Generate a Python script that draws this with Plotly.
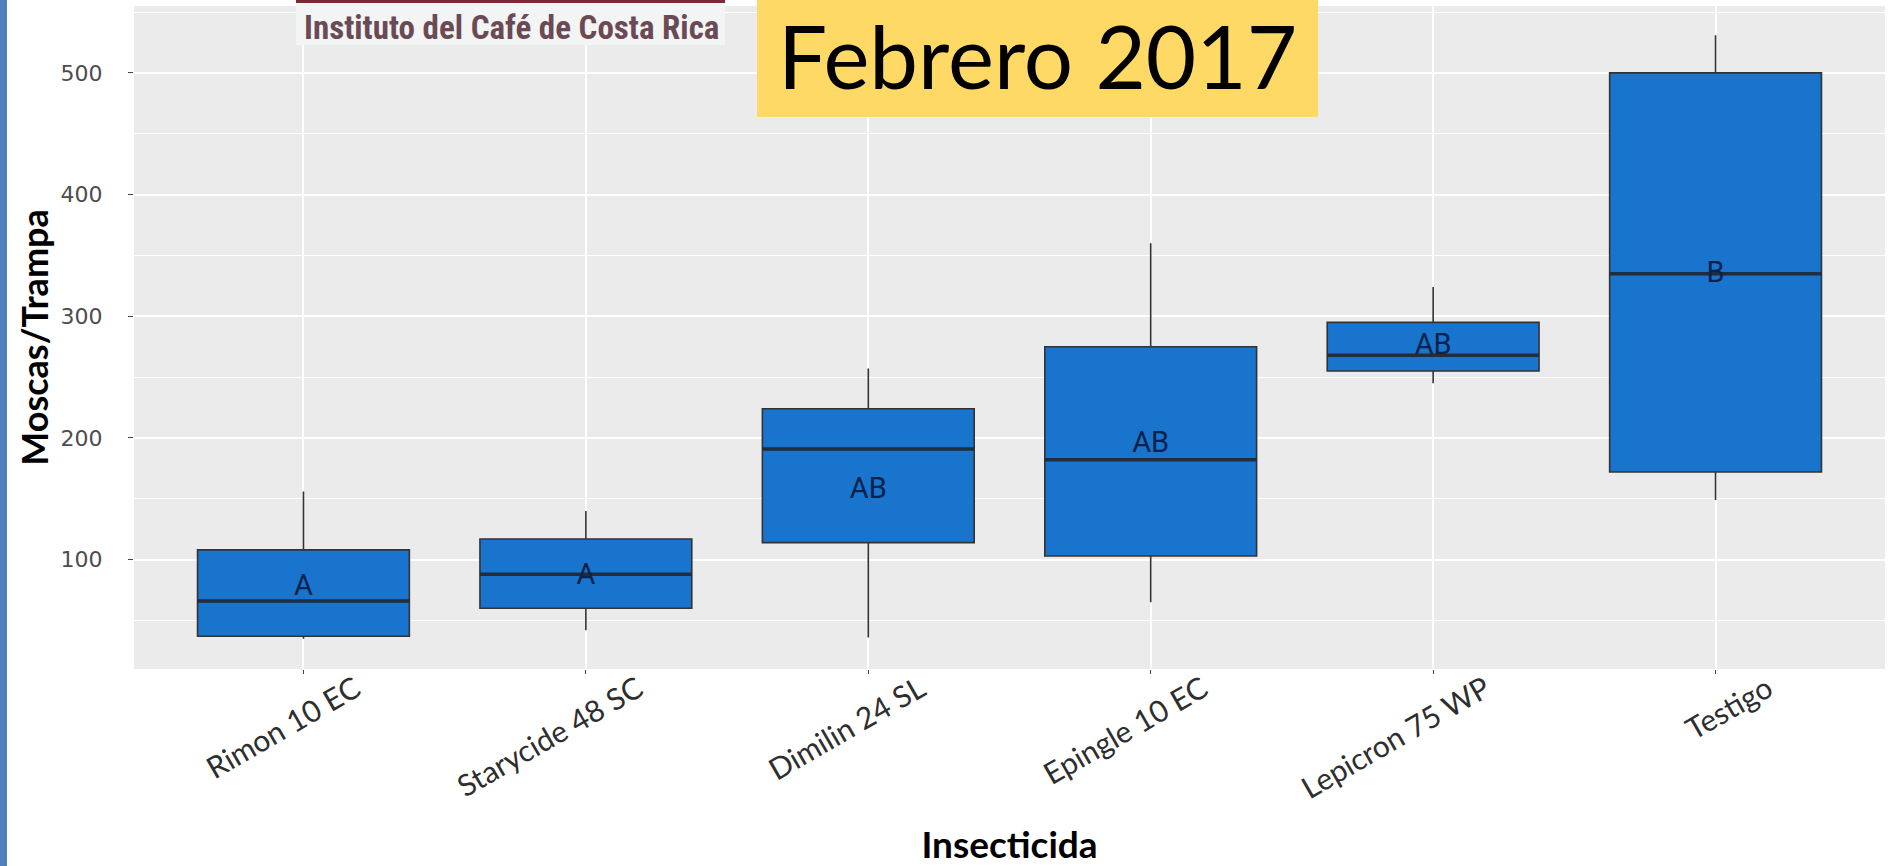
import plotly.graph_objects as go

# ---- data ----
categories = ["Rimon 10 EC", "Starycide 48 SC", "Dimilin 24 SL",
              "Epingle 10 EC", "Lepicron 75 WP", "Testigo"]
lower_whisker = [35, 42, 36, 65, 245, 149]
q1_values = [37, 60, 114, 103, 255, 172]
median_values = [66, 88, 191, 182, 268, 335]
q3_values = [108, 117, 224, 275, 295, 500]
upper_whisker = [156, 140, 257, 360, 324, 531]
group_letters = ["A", "A", "AB", "AB", "AB", "B"]
letter_y = [77, 86, 157, 194, 275, 334]
y_ticks = [100, 200, 300, 400, 500]
y_minor = [50, 150, 250, 350, 450, 550]

positions = list(range(len(categories)))
BOX_W = 0.75

fig = go.Figure()

fig.add_trace(go.Box(
    x=positions,
    q1=q1_values, median=median_values, q3=q3_values,
    lowerfence=lower_whisker, upperfence=upper_whisker,
    width=BOX_W, whiskerwidth=0,
    fillcolor="#1874CD",
    line=dict(color="#333333", width=1.6),
    boxpoints=False, hoverinfo="skip", showlegend=False,
))

# thick median lines (ggplot style)
mx, my = [], []
for p, m in zip(positions, median_values):
    mx += [p - BOX_W / 2, p + BOX_W / 2, None]
    my += [m, m, None]
fig.add_trace(go.Scatter(x=mx, y=my, mode="lines",
                         line=dict(color="#1f2d3c", width=3.5),
                         hoverinfo="skip", showlegend=False))

# significance letters
fig.add_trace(go.Scatter(x=positions, y=letter_y, mode="text", text=group_letters,
                         textfont=dict(family="Roboto", size=29, color="#0a2249"),
                         hoverinfo="skip", showlegend=False))

fig.update_layout(
    width=1895, height=866,
    margin=dict(l=134, r=10, t=6, b=197, pad=0),
    paper_bgcolor="white", plot_bgcolor="#EBEBEB",
    showlegend=False,
)

fig.update_xaxes(
    automargin=False,
    range=[-0.6, 5.6], tickmode="array", tickvals=positions, ticktext=categories,
    tickangle=-30, ticks="outside", ticklen=4, tickcolor="#444444",
    tickfont=dict(family="Lato", size=30, color="#2e2e2e"),
    ticklabelshift=52, ticklabelstandoff=-14,
    showgrid=True, gridcolor="white", gridwidth=2, zeroline=False, showline=False,
    title=dict(text="Insecticida", standoff=38,
               font=dict(family="Lato", size=37, color="black", weight="bold")),
)

fig.update_yaxes(
    automargin=False,
    range=[10.1, 555], tickmode="array", tickvals=y_ticks,
    ticks="outside", ticklen=5, tickcolor="#444444",
    tickfont=dict(family="DejaVu Sans", size=22, color="#4d4d4d"),
    ticklabelstandoff=21,
    showgrid=True, gridcolor="white", gridwidth=2, zeroline=False, showline=False,
    minor=dict(tickvals=y_minor, showgrid=True, gridcolor="white", gridwidth=1, ticks=""),
    title=dict(text="Moscas/Trampa", standoff=0,
               font=dict(family="Lato", size=36, color="black", weight="bold")),
)

# ---- decorations: left border, logo strip, title box ----
PW = 1895 - 134 - 10
PH = 669 - 6


def px_x(v):
    return (v - 134) / PW


def px_y(v):
    return (669 - v) / PH


fig.add_shape(type="rect", xref="paper", yref="paper",
              x0=px_x(0), x1=px_x(7), y0=px_y(866), y1=px_y(0),
              fillcolor="#4f81bd", line=dict(width=0), layer="above")
fig.add_shape(type="rect", xref="paper", yref="paper",
              x0=px_x(296), x1=px_x(725), y0=px_y(45), y1=px_y(0),
              fillcolor="#f3f5f5", line=dict(width=0), layer="above")
fig.add_shape(type="rect", xref="paper", yref="paper",
              x0=px_x(296), x1=px_x(725), y0=px_y(3), y1=px_y(0),
              fillcolor="#7a2a35", line=dict(width=0), layer="above")
fig.add_annotation(xref="paper", yref="paper", x=px_x(511), y=px_y(27),
                   text="<b>Instituto del Café de Costa Rica</b>", showarrow=False,
                   font=dict(family="Liberation Sans Narrow, Roboto Condensed, Liberation Sans",
                             size=33, color="#6b4a56"),
                   xanchor="center", yanchor="middle")

fig.add_shape(type="rect", xref="paper", yref="paper",
              x0=px_x(757), x1=px_x(1318), y0=px_y(117), y1=px_y(0),
              fillcolor="#FFD966", line=dict(width=0), layer="above")
fig.add_annotation(xref="paper", yref="paper", x=px_x(1037), y=px_y(56),
                   text="Febrero 2017", showarrow=False,
                   font=dict(family="Lato", size=87, color="black"),
                   xanchor="center", yanchor="middle")

fig.write_html("out.html", config={"displayModeBar": False},
               post_script="document.body.style.margin='0';")
